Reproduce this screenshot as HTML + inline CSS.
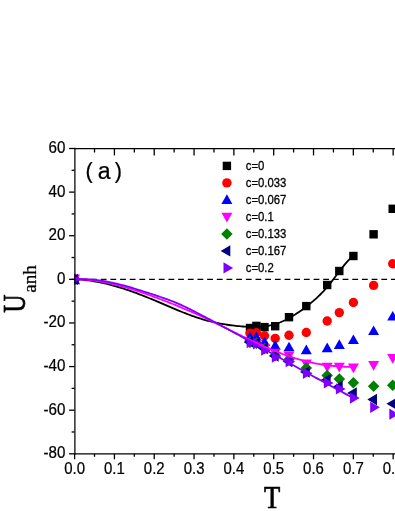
<!DOCTYPE html>
<html><head><meta charset="utf-8"><title>chart</title>
<style>
html,body{margin:0;padding:0;background:#fff;}
body{width:395px;height:511px;overflow:hidden;}
svg{display:block;will-change:transform;}
text{font-family:"Liberation Sans",sans-serif;fill:#000;}
.ser{font-family:"Liberation Serif",serif;stroke:#000;stroke-width:0.7px;}
.ser2{font-family:"Liberation Serif",serif;stroke:#000;stroke-width:0.25px;}
.tk{stroke:#000;stroke-width:0.22px;}
.lg{stroke:#000;stroke-width:0.3px;}
</style></head><body>
<svg width="395" height="511" viewBox="0 0 395 511">
<rect width="395" height="511" fill="#fff"/>
<defs><clipPath id="cp"><rect x="74.1" y="148.5" width="321.4" height="305.3"/></clipPath></defs>

<line x1="71.7" y1="279.34" x2="405" y2="279.34" stroke="#000" stroke-width="1.4" stroke-dasharray="5.8 3.875"/>
<g clip-path="url(#cp)">
<rect x="70.40" y="275.14" width="8.4" height="8.4" fill="#000000"/>
<rect x="245.80" y="323.80" width="8.4" height="8.4" fill="#000000"/>
<rect x="252.20" y="321.70" width="8.4" height="8.4" fill="#000000"/>
<rect x="260.30" y="322.90" width="8.4" height="8.4" fill="#000000"/>
<rect x="271.00" y="322.00" width="8.4" height="8.4" fill="#000000"/>
<rect x="284.80" y="313.00" width="8.4" height="8.4" fill="#000000"/>
<rect x="302.10" y="301.90" width="8.4" height="8.4" fill="#000000"/>
<rect x="323.00" y="280.80" width="8.4" height="8.4" fill="#000000"/>
<rect x="335.10" y="266.80" width="8.4" height="8.4" fill="#000000"/>
<rect x="349.20" y="251.80" width="8.4" height="8.4" fill="#000000"/>
<rect x="369.40" y="230.10" width="8.4" height="8.4" fill="#000000"/>
<rect x="388.50" y="204.60" width="8.4" height="8.4" fill="#000000"/>
<circle cx="74.60" cy="279.34" r="4.7" fill="#ff0000"/>
<circle cx="250.00" cy="333.20" r="4.7" fill="#ff0000"/>
<circle cx="256.40" cy="332.80" r="4.7" fill="#ff0000"/>
<circle cx="264.50" cy="335.80" r="4.7" fill="#ff0000"/>
<circle cx="275.20" cy="338.40" r="4.7" fill="#ff0000"/>
<circle cx="289.00" cy="335.20" r="4.7" fill="#ff0000"/>
<circle cx="306.30" cy="332.50" r="4.7" fill="#ff0000"/>
<circle cx="327.20" cy="321.00" r="4.7" fill="#ff0000"/>
<circle cx="339.30" cy="312.60" r="4.7" fill="#ff0000"/>
<circle cx="353.40" cy="302.50" r="4.7" fill="#ff0000"/>
<circle cx="373.60" cy="285.40" r="4.7" fill="#ff0000"/>
<circle cx="392.70" cy="263.80" r="4.7" fill="#ff0000"/>
<polygon points="69.10,284.14 80.10,284.14 74.60,274.54" fill="#0000ff"/>
<polygon points="244.50,341.10 255.50,341.10 250.00,331.50" fill="#0000ff"/>
<polygon points="250.90,341.10 261.90,341.10 256.40,331.50" fill="#0000ff"/>
<polygon points="259.00,346.00 270.00,346.00 264.50,336.40" fill="#0000ff"/>
<polygon points="269.70,349.70 280.70,349.70 275.20,340.10" fill="#0000ff"/>
<polygon points="283.50,351.30 294.50,351.30 289.00,341.70" fill="#0000ff"/>
<polygon points="300.80,354.20 311.80,354.20 306.30,344.60" fill="#0000ff"/>
<polygon points="321.70,352.20 332.70,352.20 327.20,342.60" fill="#0000ff"/>
<polygon points="333.80,348.90 344.80,348.90 339.30,339.30" fill="#0000ff"/>
<polygon points="347.90,344.10 358.90,344.10 353.40,334.50" fill="#0000ff"/>
<polygon points="368.10,335.00 379.10,335.00 373.60,325.40" fill="#0000ff"/>
<polygon points="387.20,320.50 398.20,320.50 392.70,310.90" fill="#0000ff"/>
<polygon points="69.10,274.44 80.10,274.44 74.60,284.24" fill="#ff00ff"/>
<polygon points="244.50,338.70 255.50,338.70 250.00,348.50" fill="#ff00ff"/>
<polygon points="250.90,339.40 261.90,339.40 256.40,349.20" fill="#ff00ff"/>
<polygon points="259.00,343.90 270.00,343.90 264.50,353.70" fill="#ff00ff"/>
<polygon points="269.70,348.70 280.70,348.70 275.20,358.50" fill="#ff00ff"/>
<polygon points="283.50,351.40 294.50,351.40 289.00,361.20" fill="#ff00ff"/>
<polygon points="300.80,359.50 311.80,359.50 306.30,369.30" fill="#ff00ff"/>
<polygon points="321.70,362.70 332.70,362.70 327.20,372.50" fill="#ff00ff"/>
<polygon points="333.80,362.80 344.80,362.80 339.30,372.60" fill="#ff00ff"/>
<polygon points="347.90,363.40 358.90,363.40 353.40,373.20" fill="#ff00ff"/>
<polygon points="368.10,360.90 379.10,360.90 373.60,370.70" fill="#ff00ff"/>
<polygon points="387.20,354.00 398.20,354.00 392.70,363.80" fill="#ff00ff"/>
<polygon points="68.85,279.34 74.60,273.59 80.35,279.34 74.60,285.09" fill="#008000"/>
<polygon points="244.25,342.00 250.00,336.25 255.75,342.00 250.00,347.75" fill="#008000"/>
<polygon points="250.65,343.00 256.40,337.25 262.15,343.00 256.40,348.75" fill="#008000"/>
<polygon points="258.75,348.50 264.50,342.75 270.25,348.50 264.50,354.25" fill="#008000"/>
<polygon points="269.45,355.50 275.20,349.75 280.95,355.50 275.20,361.25" fill="#008000"/>
<polygon points="283.25,359.60 289.00,353.85 294.75,359.60 289.00,365.35" fill="#008000"/>
<polygon points="300.55,368.00 306.30,362.25 312.05,368.00 306.30,373.75" fill="#008000"/>
<polygon points="321.45,375.50 327.20,369.75 332.95,375.50 327.20,381.25" fill="#008000"/>
<polygon points="333.55,378.90 339.30,373.15 345.05,378.90 339.30,384.65" fill="#008000"/>
<polygon points="347.65,382.70 353.40,376.95 359.15,382.70 353.40,388.45" fill="#008000"/>
<polygon points="367.85,386.20 373.60,380.45 379.35,386.20 373.60,391.95" fill="#008000"/>
<polygon points="386.95,385.30 392.70,379.55 398.45,385.30 392.70,391.05" fill="#008000"/>
<polygon points="68.30,279.34 78.00,273.64 78.00,285.04" fill="#000080"/>
<polygon points="243.70,342.00 253.40,336.30 253.40,347.70" fill="#000080"/>
<polygon points="250.10,343.50 259.80,337.80 259.80,349.20" fill="#000080"/>
<polygon points="258.20,348.50 267.90,342.80 267.90,354.20" fill="#000080"/>
<polygon points="268.90,356.00 278.60,350.30 278.60,361.70" fill="#000080"/>
<polygon points="282.70,361.50 292.40,355.80 292.40,367.20" fill="#000080"/>
<polygon points="300.00,372.00 309.70,366.30 309.70,377.70" fill="#000080"/>
<polygon points="320.90,379.80 330.60,374.10 330.60,385.50" fill="#000080"/>
<polygon points="333.00,386.50 342.70,380.80 342.70,392.20" fill="#000080"/>
<polygon points="347.10,393.00 356.80,387.30 356.80,398.70" fill="#000080"/>
<polygon points="367.30,399.50 377.00,393.80 377.00,405.20" fill="#000080"/>
<polygon points="386.40,403.80 396.10,398.10 396.10,409.50" fill="#000080"/>
<polygon points="80.90,279.34 71.20,273.74 71.20,284.94" fill="#8000ff"/>
<polygon points="256.30,342.70 246.60,337.10 246.60,348.30" fill="#8000ff"/>
<polygon points="262.70,343.80 253.00,338.20 253.00,349.40" fill="#8000ff"/>
<polygon points="270.80,350.20 261.10,344.60 261.10,355.80" fill="#8000ff"/>
<polygon points="281.50,357.10 271.80,351.50 271.80,362.70" fill="#8000ff"/>
<polygon points="295.30,361.70 285.60,356.10 285.60,367.30" fill="#8000ff"/>
<polygon points="312.60,373.30 302.90,367.70 302.90,378.90" fill="#8000ff"/>
<polygon points="333.50,382.90 323.80,377.30 323.80,388.50" fill="#8000ff"/>
<polygon points="345.60,388.90 335.90,383.30 335.90,394.50" fill="#8000ff"/>
<polygon points="359.70,398.10 350.00,392.50 350.00,403.70" fill="#8000ff"/>
<polygon points="379.90,407.30 370.20,401.70 370.20,412.90" fill="#8000ff"/>
<polygon points="399.00,414.20 389.30,408.60 389.30,419.80" fill="#8000ff"/>
<path d="M74.60,279.34 L76.35,279.40 L78.11,279.48 L79.86,279.59 L81.61,279.72 L83.37,279.87 L85.12,280.05 L86.87,280.24 L88.63,280.46 L90.38,280.70 L92.13,280.96 L93.89,281.24 L95.64,281.54 L97.39,281.86 L99.15,282.19 L100.90,282.55 L102.66,282.93 L104.41,283.32 L106.16,283.73 L107.92,284.15 L109.67,284.60 L111.42,285.06 L113.18,285.53 L114.93,286.02 L116.68,286.53 L118.44,287.05 L120.19,287.59 L121.94,288.14 L123.70,288.70 L125.45,289.27 L127.20,289.86 L128.96,290.46 L130.71,291.07 L132.46,291.70 L134.22,292.33 L135.97,292.97 L137.72,293.63 L139.48,294.29 L141.23,294.97 L142.98,295.65 L144.74,296.34 L146.49,297.04 L148.25,297.75 L150.00,298.47 L151.75,299.19 L153.51,299.92 L155.26,300.65 L157.01,301.39 L158.77,302.14 L160.52,302.89 L162.27,303.64 L164.03,304.39 L165.78,305.14 L167.53,305.89 L169.29,306.64 L171.04,307.39 L172.79,308.14 L174.55,308.88 L176.30,309.61 L178.05,310.34 L179.81,311.06 L181.56,311.77 L183.31,312.47 L185.07,313.16 L186.82,313.84 L188.57,314.51 L190.33,315.17 L192.08,315.81 L193.84,316.43 L195.59,317.04 L197.34,317.63 L199.10,318.20 L200.85,318.76 L202.60,319.29 L204.36,319.80 L206.11,320.30 L207.86,320.77 L209.62,321.22 L211.37,321.66 L213.12,322.08 L214.88,322.47 L216.63,322.85 L218.38,323.22 L220.14,323.56 L221.89,323.88 L223.64,324.19 L225.40,324.48 L227.15,324.76 L228.90,325.01 L230.66,325.25 L232.41,325.48 L234.16,325.69 L235.92,325.88 L237.67,326.05 L239.43,326.21 L241.18,326.36 L242.93,326.49 L244.69,326.60 L246.44,326.70 L248.19,326.79 L249.95,326.85 L251.70,326.90 L253.45,326.92 L255.21,326.92 L256.96,326.89 L258.71,326.82 L260.47,326.72 L262.22,326.59 L263.97,326.41 L265.73,326.19 L267.48,325.92 L269.23,325.60 L270.99,325.23 L272.74,324.81 L274.49,324.33 L276.25,323.78 L278.00,323.18 L279.75,322.52 L281.51,321.80 L283.26,321.03 L285.02,320.20 L286.77,319.32 L288.52,318.40 L290.28,317.42 L292.03,316.40 L293.78,315.34 L295.54,314.23 L297.29,313.08 L299.04,311.90 L300.80,310.68 L302.55,309.42 L304.30,308.13 L306.06,306.81 L307.81,305.46 L309.56,304.07 L311.32,302.65 L313.07,301.18 L314.82,299.66 L316.58,298.09 L318.33,296.45 L320.08,294.75 L321.84,292.97 L323.59,291.12 L325.34,289.18 L327.10,287.16 L328.85,285.04 L330.61,282.84 L332.36,280.58 L334.11,278.29 L335.87,275.97 L337.62,273.64 L339.37,271.33 L341.13,269.05 L342.88,266.82 L344.63,264.65 L346.39,262.58 L348.14,260.60 L349.89,258.75 L351.65,257.05 L353.40,255.50" fill="none" stroke="#000000" stroke-width="1.8" stroke-linejoin="round"/>
<path d="M74.60,279.34 L76.35,279.34 L78.11,279.36 L79.86,279.41 L81.61,279.48 L83.37,279.57 L85.12,279.68 L86.87,279.81 L88.63,279.96 L90.38,280.14 L92.13,280.34 L93.89,280.55 L95.64,280.79 L97.39,281.04 L99.15,281.31 L100.90,281.60 L102.66,281.91 L104.41,282.23 L106.16,282.58 L107.92,282.93 L109.67,283.31 L111.42,283.70 L113.18,284.10 L114.93,284.52 L116.68,284.96 L118.44,285.41 L120.19,285.87 L121.94,286.34 L123.70,286.83 L125.45,287.33 L127.20,287.84 L128.96,288.36 L130.71,288.90 L132.46,289.44 L134.22,290.00 L135.97,290.56 L137.72,291.13 L139.48,291.72 L141.23,292.31 L142.98,292.91 L144.74,293.51 L146.49,294.12 L148.25,294.75 L150.00,295.37 L151.75,296.00 L153.51,296.64 L155.26,297.29 L157.01,297.93 L158.77,298.59 L160.52,299.24 L162.27,299.91 L164.03,300.58 L165.78,301.25 L167.53,301.93 L169.29,302.62 L171.04,303.31 L172.79,304.01 L174.55,304.71 L176.30,305.42 L178.05,306.14 L179.81,306.86 L181.56,307.59 L183.31,308.32 L185.07,309.07 L186.82,309.81 L188.57,310.57 L190.33,311.33 L192.08,312.10 L193.84,312.88 L195.59,313.66 L197.34,314.45 L199.10,315.25 L200.85,316.06 L202.60,316.87 L204.36,317.69 L206.11,318.51 L207.86,319.35 L209.62,320.19 L211.37,321.03 L213.12,321.88 L214.88,322.73 L216.63,323.58 L218.38,324.44 L220.14,325.30 L221.89,326.17 L223.64,327.03 L225.40,327.90 L227.15,328.76 L228.90,329.63 L230.66,330.50 L232.41,331.36 L234.16,332.23 L235.92,333.09 L237.67,333.95 L239.43,334.81 L241.18,335.67 L242.93,336.52 L244.69,337.37 L246.44,338.21 L248.19,339.05 L249.95,339.89 L251.70,340.72 L253.45,341.54 L255.21,342.36 L256.96,343.17 L258.71,343.97 L260.47,344.77 L262.22,345.56 L263.97,346.34 L265.73,347.11 L267.48,347.87 L269.23,348.62 L270.99,349.36 L272.74,350.09 L274.49,350.81 L276.25,351.52 L278.00,352.21 L279.75,352.89 L281.51,353.56 L283.26,354.22 L285.02,354.86 L286.77,355.49 L288.52,356.11 L290.28,356.71 L292.03,357.29 L293.78,357.86 L295.54,358.41 L297.29,358.94 L299.04,359.46 L300.80,359.96 L302.55,360.44 L304.30,360.90 L306.06,361.34 L307.81,361.77 L309.56,362.17 L311.32,362.56 L313.07,362.93 L314.82,363.28 L316.58,363.61 L318.33,363.92 L320.08,364.22 L321.84,364.50 L323.59,364.76 L325.34,365.01 L327.10,365.24 L328.85,365.45 L330.61,365.65 L332.36,365.84 L334.11,366.01 L335.87,366.16 L337.62,366.30 L339.37,366.43 L341.13,366.54 L342.88,366.64 L344.63,366.73 L346.39,366.81 L348.14,366.87 L349.89,366.92 L351.65,366.96 L353.40,366.99" fill="none" stroke="#ff00ff" stroke-width="1.8" stroke-linejoin="round"/>
<path d="M74.60,279.34 L76.35,279.24 L78.11,279.17 L79.86,279.12 L81.61,279.11 L83.37,279.12 L85.12,279.16 L86.87,279.22 L88.63,279.31 L90.38,279.43 L92.13,279.57 L93.89,279.73 L95.64,279.92 L97.39,280.13 L99.15,280.36 L100.90,280.61 L102.66,280.88 L104.41,281.17 L106.16,281.48 L107.92,281.81 L109.67,282.16 L111.42,282.52 L113.18,282.90 L114.93,283.30 L116.68,283.71 L118.44,284.13 L120.19,284.57 L121.94,285.03 L123.70,285.49 L125.45,285.97 L127.20,286.45 L128.96,286.95 L130.71,287.46 L132.46,287.98 L134.22,288.50 L135.97,289.04 L137.72,289.58 L139.48,290.12 L141.23,290.68 L142.98,291.24 L144.74,291.80 L146.49,292.37 L148.25,292.94 L150.00,293.51 L151.75,294.08 L153.51,294.66 L155.26,295.23 L157.01,295.81 L158.77,296.39 L160.52,296.98 L162.27,297.58 L164.03,298.18 L165.78,298.80 L167.53,299.43 L169.29,300.07 L171.04,300.73 L172.79,301.41 L174.55,302.11 L176.30,302.84 L178.05,303.59 L179.81,304.36 L181.56,305.15 L183.31,305.96 L185.07,306.78 L186.82,307.62 L188.57,308.48 L190.33,309.35 L192.08,310.23 L193.84,311.12 L195.59,312.02 L197.34,312.93 L199.10,313.84 L200.85,314.76 L202.60,315.68 L204.36,316.61 L206.11,317.53 L207.86,318.46 L209.62,319.39 L211.37,320.33 L213.12,321.27 L214.88,322.21 L216.63,323.15 L218.38,324.09 L220.14,325.04 L221.89,325.98 L223.64,326.93 L225.40,327.88 L227.15,328.83 L228.90,329.79 L230.66,330.74 L232.41,331.70 L234.16,332.65 L235.92,333.61 L237.67,334.57 L239.43,335.53 L241.18,336.49 L242.93,337.45 L244.69,338.41 L246.44,339.38 L248.19,340.34 L249.95,341.31 L251.70,342.27 L253.45,343.24 L255.21,344.21 L256.96,345.17 L258.71,346.14 L260.47,347.11 L262.22,348.08 L263.97,349.05 L265.73,350.02 L267.48,350.99 L269.23,351.96 L270.99,352.93 L272.74,353.90 L274.49,354.87 L276.25,355.85 L278.00,356.82 L279.75,357.79 L281.51,358.76 L283.26,359.73 L285.02,360.71 L286.77,361.68 L288.52,362.65 L290.28,363.62 L292.03,364.59 L293.78,365.56 L295.54,366.53 L297.29,367.50 L299.04,368.47 L300.80,369.44 L302.55,370.41 L304.30,371.38 L306.06,372.34 L307.81,373.31 L309.56,374.28 L311.32,375.24 L313.07,376.21 L314.82,377.17 L316.58,378.14 L318.33,379.10 L320.08,380.06 L321.84,381.02 L323.59,381.98 L325.34,382.94 L327.10,383.89 L328.85,384.85 L330.61,385.81 L332.36,386.76 L334.11,387.71 L335.87,388.66 L337.62,389.61 L339.37,390.56 L341.13,391.51 L342.88,392.45 L344.63,393.40 L346.39,394.34 L348.14,395.28 L349.89,396.22 L351.65,397.16 L353.40,398.09" fill="none" stroke="#8000ff" stroke-width="1.8" stroke-linejoin="round"/>
</g>
<line x1="74.89999999999999" y1="147.8" x2="74.89999999999999" y2="454.5" stroke="#000" stroke-width="1.25"/>
<line x1="74.6" y1="148.5" x2="395" y2="148.5" stroke="#000" stroke-width="1.25"/>
<line x1="74.6" y1="453.8" x2="395" y2="453.8" stroke="#000" stroke-width="1.25"/>
<line x1="74.60" y1="453.8" x2="74.60" y2="459.3" stroke="#000" stroke-width="1.3"/>
<text transform="translate(74.60,474.2) scale(0.96,1)" font-size="15.6" text-anchor="middle" class="tk">0.0</text>
<line x1="94.51" y1="453.8" x2="94.51" y2="456.8" stroke="#000" stroke-width="1.3"/>
<line x1="94.51" y1="148.5" x2="94.51" y2="152.5" stroke="#000" stroke-width="1.3"/>
<line x1="114.42" y1="453.8" x2="114.42" y2="459.3" stroke="#000" stroke-width="1.3"/>
<line x1="114.42" y1="148.5" x2="114.42" y2="155.4" stroke="#000" stroke-width="1.3"/>
<text transform="translate(114.42,474.2) scale(0.96,1)" font-size="15.6" text-anchor="middle" class="tk">0.1</text>
<line x1="134.33" y1="453.8" x2="134.33" y2="456.8" stroke="#000" stroke-width="1.3"/>
<line x1="134.33" y1="148.5" x2="134.33" y2="152.5" stroke="#000" stroke-width="1.3"/>
<line x1="154.24" y1="453.8" x2="154.24" y2="459.3" stroke="#000" stroke-width="1.3"/>
<line x1="154.24" y1="148.5" x2="154.24" y2="155.4" stroke="#000" stroke-width="1.3"/>
<text transform="translate(154.24,474.2) scale(0.96,1)" font-size="15.6" text-anchor="middle" class="tk">0.2</text>
<line x1="174.15" y1="453.8" x2="174.15" y2="456.8" stroke="#000" stroke-width="1.3"/>
<line x1="174.15" y1="148.5" x2="174.15" y2="152.5" stroke="#000" stroke-width="1.3"/>
<line x1="194.06" y1="453.8" x2="194.06" y2="459.3" stroke="#000" stroke-width="1.3"/>
<line x1="194.06" y1="148.5" x2="194.06" y2="155.4" stroke="#000" stroke-width="1.3"/>
<text transform="translate(194.06,474.2) scale(0.96,1)" font-size="15.6" text-anchor="middle" class="tk">0.3</text>
<line x1="213.97" y1="453.8" x2="213.97" y2="456.8" stroke="#000" stroke-width="1.3"/>
<line x1="213.97" y1="148.5" x2="213.97" y2="152.5" stroke="#000" stroke-width="1.3"/>
<line x1="233.88" y1="453.8" x2="233.88" y2="459.3" stroke="#000" stroke-width="1.3"/>
<line x1="233.88" y1="148.5" x2="233.88" y2="155.4" stroke="#000" stroke-width="1.3"/>
<text transform="translate(233.88,474.2) scale(0.96,1)" font-size="15.6" text-anchor="middle" class="tk">0.4</text>
<line x1="253.79" y1="453.8" x2="253.79" y2="456.8" stroke="#000" stroke-width="1.3"/>
<line x1="253.79" y1="148.5" x2="253.79" y2="152.5" stroke="#000" stroke-width="1.3"/>
<line x1="273.70" y1="453.8" x2="273.70" y2="459.3" stroke="#000" stroke-width="1.3"/>
<line x1="273.70" y1="148.5" x2="273.70" y2="155.4" stroke="#000" stroke-width="1.3"/>
<text transform="translate(273.70,474.2) scale(0.96,1)" font-size="15.6" text-anchor="middle" class="tk">0.5</text>
<line x1="293.61" y1="453.8" x2="293.61" y2="456.8" stroke="#000" stroke-width="1.3"/>
<line x1="293.61" y1="148.5" x2="293.61" y2="152.5" stroke="#000" stroke-width="1.3"/>
<line x1="313.52" y1="453.8" x2="313.52" y2="459.3" stroke="#000" stroke-width="1.3"/>
<line x1="313.52" y1="148.5" x2="313.52" y2="155.4" stroke="#000" stroke-width="1.3"/>
<text transform="translate(313.52,474.2) scale(0.96,1)" font-size="15.6" text-anchor="middle" class="tk">0.6</text>
<line x1="333.43" y1="453.8" x2="333.43" y2="456.8" stroke="#000" stroke-width="1.3"/>
<line x1="333.43" y1="148.5" x2="333.43" y2="152.5" stroke="#000" stroke-width="1.3"/>
<line x1="353.34" y1="453.8" x2="353.34" y2="459.3" stroke="#000" stroke-width="1.3"/>
<line x1="353.34" y1="148.5" x2="353.34" y2="155.4" stroke="#000" stroke-width="1.3"/>
<text transform="translate(353.34,474.2) scale(0.96,1)" font-size="15.6" text-anchor="middle" class="tk">0.7</text>
<line x1="373.25" y1="453.8" x2="373.25" y2="456.8" stroke="#000" stroke-width="1.3"/>
<line x1="373.25" y1="148.5" x2="373.25" y2="152.5" stroke="#000" stroke-width="1.3"/>
<line x1="393.16" y1="453.8" x2="393.16" y2="459.3" stroke="#000" stroke-width="1.3"/>
<line x1="393.16" y1="148.5" x2="393.16" y2="155.4" stroke="#000" stroke-width="1.3"/>
<text transform="translate(393.16,474.2) scale(0.96,1)" font-size="15.6" text-anchor="middle" class="tk">0.8</text>
<line x1="69.1" y1="148.50" x2="74.6" y2="148.50" stroke="#000" stroke-width="1.3"/>
<text transform="translate(65.4,153.00) scale(0.96,1)" font-size="15.8" text-anchor="end" class="tk">60</text>
<line x1="71.6" y1="170.31" x2="74.6" y2="170.31" stroke="#000" stroke-width="1.3"/>
<line x1="69.1" y1="192.11" x2="74.6" y2="192.11" stroke="#000" stroke-width="1.3"/>
<text transform="translate(65.4,196.61) scale(0.96,1)" font-size="15.8" text-anchor="end" class="tk">40</text>
<line x1="71.6" y1="213.92" x2="74.6" y2="213.92" stroke="#000" stroke-width="1.3"/>
<line x1="69.1" y1="235.73" x2="74.6" y2="235.73" stroke="#000" stroke-width="1.3"/>
<text transform="translate(65.4,240.23) scale(0.96,1)" font-size="15.8" text-anchor="end" class="tk">20</text>
<line x1="71.6" y1="257.54" x2="74.6" y2="257.54" stroke="#000" stroke-width="1.3"/>
<line x1="69.1" y1="279.34" x2="74.6" y2="279.34" stroke="#000" stroke-width="1.3"/>
<text transform="translate(65.4,283.84) scale(0.96,1)" font-size="15.8" text-anchor="end" class="tk">0</text>
<line x1="71.6" y1="301.15" x2="74.6" y2="301.15" stroke="#000" stroke-width="1.3"/>
<line x1="69.1" y1="322.96" x2="74.6" y2="322.96" stroke="#000" stroke-width="1.3"/>
<text transform="translate(65.4,327.46) scale(0.96,1)" font-size="15.8" text-anchor="end" class="tk">-20</text>
<line x1="71.6" y1="344.76" x2="74.6" y2="344.76" stroke="#000" stroke-width="1.3"/>
<line x1="69.1" y1="366.57" x2="74.6" y2="366.57" stroke="#000" stroke-width="1.3"/>
<text transform="translate(65.4,371.07) scale(0.96,1)" font-size="15.8" text-anchor="end" class="tk">-40</text>
<line x1="71.6" y1="388.38" x2="74.6" y2="388.38" stroke="#000" stroke-width="1.3"/>
<line x1="69.1" y1="410.19" x2="74.6" y2="410.19" stroke="#000" stroke-width="1.3"/>
<text transform="translate(65.4,414.69) scale(0.96,1)" font-size="15.8" text-anchor="end" class="tk">-60</text>
<line x1="71.6" y1="431.99" x2="74.6" y2="431.99" stroke="#000" stroke-width="1.3"/>
<line x1="69.1" y1="453.80" x2="74.6" y2="453.80" stroke="#000" stroke-width="1.3"/>
<text transform="translate(65.4,458.30) scale(0.96,1)" font-size="15.8" text-anchor="end" class="tk">-80</text>
<text y="178.1" font-size="21.6" class="tk"><tspan x="85.4">(</tspan><tspan x="97.8" y="178.8" font-size="23.1">a</tspan><tspan x="114.7" y="178.1">)</tspan></text>
<rect x="222.70" y="161.70" width="8.4" height="8.4" fill="#000000"/>
<text transform="translate(245.8,170.30) scale(0.9,1)" font-size="12.6" class="lg">c=0</text>
<circle cx="226.90" cy="182.90" r="4.7" fill="#ff0000"/>
<text transform="translate(245.8,187.30) scale(0.9,1)" font-size="12.6" class="lg">c=0.033</text>
<polygon points="221.40,203.90 232.40,203.90 226.90,194.30" fill="#0000ff"/>
<text transform="translate(245.8,204.30) scale(0.9,1)" font-size="12.6" class="lg">c=0.067</text>
<polygon points="221.40,212.80 232.40,212.80 226.90,222.60" fill="#ff00ff"/>
<text transform="translate(245.8,221.30) scale(0.9,1)" font-size="12.6" class="lg">c=0.1</text>
<polygon points="221.15,233.90 226.90,228.15 232.65,233.90 226.90,239.65" fill="#008000"/>
<text transform="translate(245.8,238.30) scale(0.9,1)" font-size="12.6" class="lg">c=0.133</text>
<polygon points="220.60,250.90 230.30,245.20 230.30,256.60" fill="#000080"/>
<text transform="translate(245.8,255.30) scale(0.9,1)" font-size="12.6" class="lg">c=0.167</text>
<polygon points="233.20,267.90 223.50,262.30 223.50,273.50" fill="#8000ff"/>
<text transform="translate(245.8,272.30) scale(0.9,1)" font-size="12.6" class="lg">c=0.2</text>
<g transform="translate(25.1,312.8) rotate(-90)"><text class="ser" font-size="31.2" transform="scale(0.81,1)" x="0" y="0">U</text><text class="ser2" font-size="19.2" x="20.0" y="11.0">anh</text></g>
<text class="ser" font-size="30.6" transform="translate(272.0,508.0) scale(0.87,1)" text-anchor="middle" x="0" y="0">T</text>
</svg></body></html>
